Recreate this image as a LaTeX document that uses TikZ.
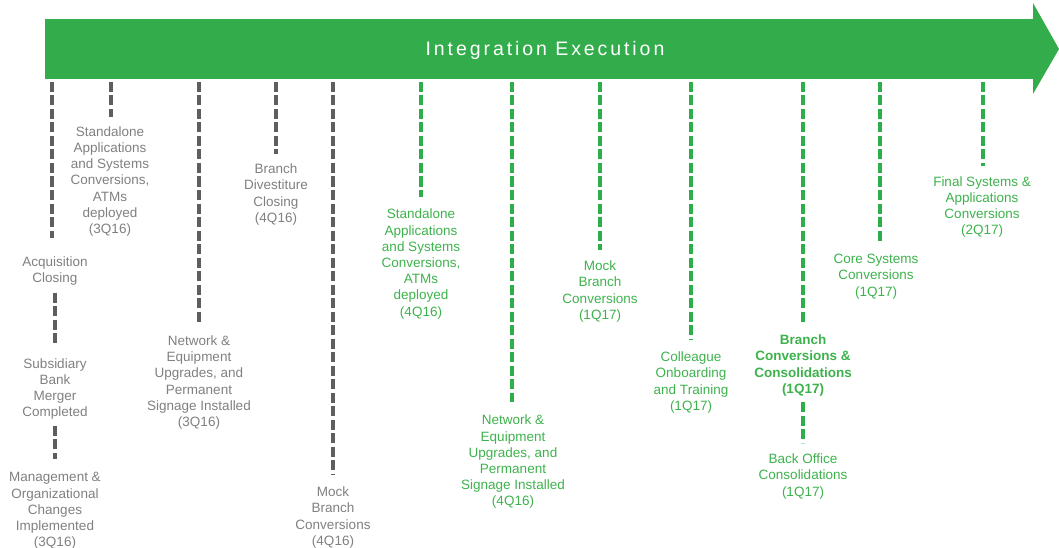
\documentclass[tikz,border=0pt]{standalone}
\usepackage{fontspec}
\setmainfont{Liberation Sans}
\begin{document}
\definecolor{barGreen}{HTML}{33AD4B}
\definecolor{dashGreen}{HTML}{2EAE4A}
\definecolor{txtGreen}{HTML}{3DB24C}
\definecolor{dashGray}{HTML}{5E5E5E}
\definecolor{txtGray}{HTML}{808080}
\begin{tikzpicture}[x=1pt,y=-1pt,
  lbl/.style={inner sep=0pt, align=center, font=\fontsize{13.5}{16.2}\selectfont},
  graylbl/.style={lbl, text=txtGray},
  greenlbl/.style={lbl, text=txtGreen},
  link/.style={line width=3.2pt, dash pattern=on 10pt off 3.5pt},
  graylink/.style={link, draw=dashGray},
  greenlink/.style={link, draw=dashGreen}]
\useasboundingbox (0,0) rectangle (1059,548);

% timeline arrow
\node[fill=barGreen, inner sep=0pt, minimum width=988pt, minimum height=60pt,
      anchor=north west] (bar) at (45,19) {};
\fill[barGreen] (1032,19) -- (1033,19) -- (1033,3) -- (1059,49) -- (1033,94)
  -- (1033,79) -- (1032,79) -- cycle;
\node[text=white, inner sep=0pt,
      font=\fontsize{19.5}{23}\selectfont\addfontfeature{LetterSpace=15}]
  (title) at (545,50.5) {Integration Execution};

% attachment points on the bar
\foreach \n/\x in {t1/52,t2/111,t3/199,t4/276,t5/333,t6/421,t7/512,t8/600,
                   t9/691,t10/803,t11/880,t12/983}
  \coordinate (\n) at (\x,82);

% milestones, 2016
\node[graylbl] (acq)   at (55,271)    {Acquisition\\Closing};
\node[graylbl] (sub)   at (55,389)    {Subsidiary\\Bank\\Merger\\Completed};
\node[graylbl] (mgmt)  at (55,511)    {Management \&\\Organizational\\Changes\\Implemented\\(3Q16)};
\node[graylbl] (sa3)   at (110,181.5) {Standalone\\Applications\\and Systems\\Conversions,\\ATMs\\deployed\\(3Q16)};
\node[graylbl] (net3)  at (199,382.5) {Network \&\\Equipment\\Upgrades, and\\Permanent\\Signage Installed\\(3Q16)};
\node[graylbl] (div)   at (276,194.5) {Branch\\Divestiture\\Closing\\(4Q16)};
\node[graylbl] (mock4) at (333,517.5) {Mock\\Branch\\Conversions\\(4Q16)};

% milestones, late 2016 to 2017
\node[greenlbl] (sa4)   at (421,264)   {Standalone\\Applications\\and Systems\\Conversions,\\ATMs\\deployed\\(4Q16)};
\node[greenlbl] (net4)  at (513,462)   {Network \&\\Equipment\\Upgrades, and\\Permanent\\Signage Installed\\(4Q16)};
\node[greenlbl] (mock1) at (600,291.5) {Mock\\Branch\\Conversions\\(1Q17)};
\node[greenlbl] (coll)  at (691,382.5) {Colleague\\Onboarding\\and Training\\(1Q17)};
\node[greenlbl, font=\fontsize{13.5}{16.2}\selectfont\bfseries]
               (brc)   at (803,365.5) {Branch\\Conversions \&\\Consolidations\\(1Q17)};
\node[greenlbl] (bo)    at (803,476.5) {Back Office\\Consolidations\\(1Q17)};
\node[greenlbl] (core)  at (876,276.5) {Core Systems\\Conversions\\(1Q17)};
\node[greenlbl] (fin)   at (982,207)   {Final Systems \&\\Applications\\Conversions\\(2Q17)};

% connectors
\draw[graylink, shorten >=18pt] (t1) -- (t1 |- acq.north);
\draw[graylink, shorten <=7pt, shorten >=12pt] (acq.south) -- (sub.north);
\draw[graylink, shorten <=6pt, shorten >=13pt] (sub.south) -- (mgmt.north);
\draw[graylink, shorten >=9pt]  (t2) -- (t2 |- sa3.north);
\draw[graylink, shorten >=11pt] (t3) -- (t3 |- net3.north);
\draw[graylink, shorten >=10pt] (t4) -- (t4 |- div.north);
\draw[graylink, shorten >=12pt] (t5) -- (t5 |- mock4.north);

\draw[greenlink, shorten >=12pt] (t6) -- (t6 |- sa4.north);
\draw[greenlink, shorten >=13pt] (t7) -- (t7 |- net4.north);
\draw[greenlink, shorten >=11pt] (t8) -- (t8 |- mock1.north);
\draw[greenlink, shorten >=12pt] (t9) -- (t9 |- coll.north);
\draw[greenlink, shorten >=13pt] (t10) -- (t10 |- brc.north);
\draw[greenlink, shorten <=6pt, shorten >=11pt] (brc.south) -- (bo.north);
\draw[greenlink, shorten >=13pt] (t11) -- (t11 |- core.north);
\draw[greenlink, shorten >=10pt] (t12) -- (t12 |- fin.north);
\end{tikzpicture}
\end{document}
